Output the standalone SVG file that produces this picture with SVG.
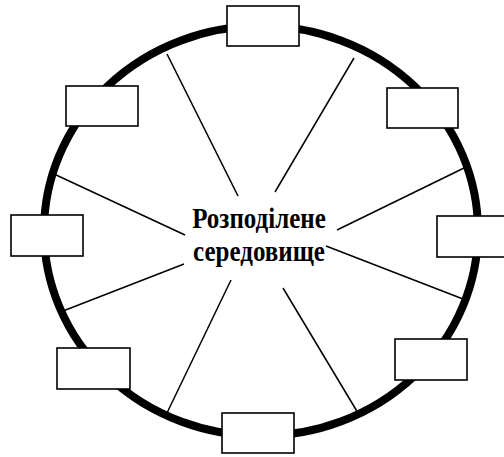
<svg xmlns="http://www.w3.org/2000/svg" width="504" height="457" viewBox="0 0 504 457">
<style>
.ring{fill:none;stroke:#000;stroke-width:8}
.box{fill:#fff;stroke:#000;stroke-width:1.6}
.conn line{stroke:#000;stroke-width:1.5}
.lbl{font-family:"Liberation Serif","Times New Roman",serif;font-weight:bold;font-size:25px;fill:#000;text-anchor:middle}
</style>
<rect width="504" height="457" fill="#fff"/>
<g id="ring"><ellipse class="ring" cx="261" cy="231" rx="217" ry="205"/></g>
<g id="connectors" class="conn">
<line x1="167" y1="54" x2="238" y2="196"/>
<line x1="354" y1="58" x2="275" y2="192"/>
<line x1="54" y1="174" x2="185" y2="235"/>
<line x1="464" y1="168" x2="337" y2="230"/>
<line x1="63" y1="311" x2="184" y2="264"/>
<line x1="326" y1="246" x2="463" y2="299"/>
<line x1="231" y1="280" x2="166" y2="415"/>
<line x1="283" y1="288" x2="358" y2="413"/>
</g>
<g id="center">
<text class="lbl" x="259" y="228" transform="translate(0,-34) scale(1,1.15)">Розподілене</text>
<text class="lbl" x="259" y="261" transform="translate(0,-39) scale(1,1.15)">середовище</text>
</g>
<g id="node-top"><rect class="box" x="227" y="6" width="72" height="40"/></g>
<g id="node-upper-left"><rect class="box" x="66" y="86" width="72" height="40"/></g>
<g id="node-upper-right"><rect class="box" x="387" y="88" width="71" height="40"/></g>
<g id="node-left"><rect class="box" x="11" y="215" width="72" height="41"/></g>
<g id="node-right"><rect class="box" x="437" y="216" width="72" height="41"/></g>
<g id="node-lower-left"><rect class="box" x="57" y="348" width="73" height="41"/></g>
<g id="node-lower-right"><rect class="box" x="395" y="339" width="72" height="41"/></g>
<g id="node-bottom"><rect class="box" x="222" y="413" width="72" height="40"/></g>
</svg>
